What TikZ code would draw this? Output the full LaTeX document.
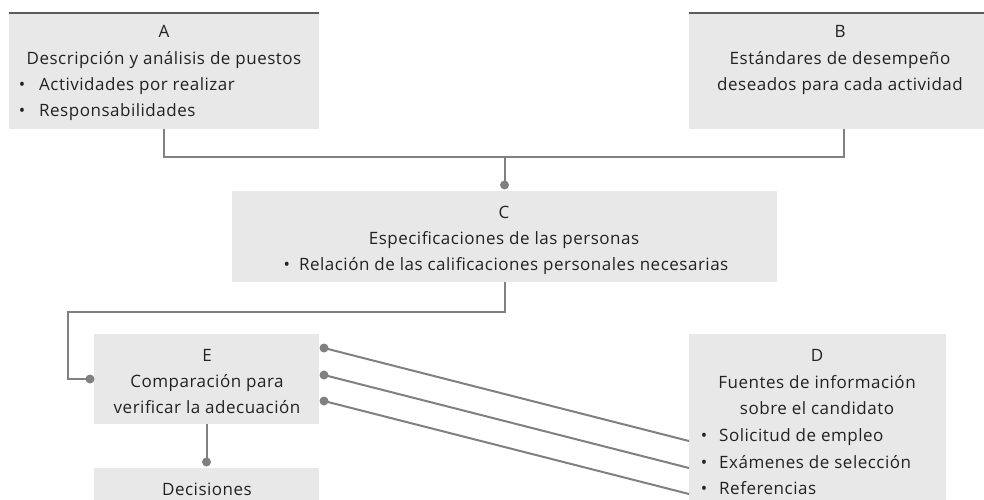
\documentclass[tikz,border=0pt]{standalone}
\usepackage{fontspec}
\setmainfont{Open Sans}[LetterSpace=3]
\usetikzlibrary{calc}
\definecolor{boxgray}{HTML}{E8E8E8}
\definecolor{linegray}{HTML}{808080}
\definecolor{topgray}{HTML}{5C5C5C}
\definecolor{textgray}{HTML}{222222}
\newcommand{\dfont}{\fontsize{17pt}{26pt}\selectfont}
\begin{document}
\begin{tikzpicture}[x=1pt,y=-1pt,
  box/.style={fill=boxgray,draw=none,inner sep=0pt,outer sep=0pt,anchor=north west},
  txt/.style={text=textgray,inner sep=0pt,anchor=base,font=\dfont},
  ltxt/.style={txt,anchor=base west},
  conn/.style={draw=linegray,line width=2pt},
  topline/.style={draw=topgray,line width=2pt},
  dotc/.style={fill=linegray}]
\useasboundingbox (0,0) rectangle (984,500);
% boxes
\node[box,minimum width=310,minimum height=116] (A) at (9,13) {};
\node[box,minimum width=295,minimum height=116] (B) at (689,13) {};
\node[box,minimum width=545,minimum height=91] (C) at (232,191) {};
\node[box,minimum width=225,minimum height=90] (E) at (94,334) {};
\node[box,minimum width=225,minimum height=32] (Dec) at (94,468) {};
\node[box,minimum width=257,minimum height=166] (D) at (689,334) {};
\draw[topline] (A.north west) -- (A.north east);
\draw[topline] (B.north west) -- (B.north east);
% texts A
\node[txt] (At) at (164,38) {A};
\node[txt] (A1) at (164,65) {Descripción y análisis de puestos};
\node[txt] (Ab1) at (22,91) {•};
\node[ltxt] (A2) at (39,91) {Actividades por realizar};
\node[txt] (Ab2) at (22,117) {•};
\node[ltxt] (A3) at (39,117) {Responsabilidades};
% texts B
\node[txt] (Bt) at (840,38) {B};
\node[txt] (B1) at (840,65) {Estándares de desempeño};
\node[txt] (B2) at (840,91) {deseados para cada actividad};
% texts C
\node[txt] (Ct) at (504,218) {C};
\node[txt] (C1) at (504,244) {Especificaciones de las personas};
\node[txt] (C2) at (506,270) {•\hspace{9pt}Relación de las calificaciones personales necesarias};
% texts E
\node[txt] (Et) at (207,361) {E};
\node[txt] (E1) at (207,387) {Comparación para};
\node[txt] (E2) at (207,413) {verificar la adecuación};
\node[txt] (Dect) at (207,495) {Decisiones};
% texts D
\node[txt] (Dt) at (817,361) {D};
\node[txt] (D1) at (817,388) {Fuentes de información};
\node[txt] (D2) at (817,414) {sobre el candidato};
\node[txt] (Db1) at (704,441) {•};
\node[ltxt] (D3) at (719,441) {Solicitud de empleo};
\node[txt] (Db2) at (704,468) {•};
\node[ltxt] (D4) at (719,468) {Exámenes de selección};
\node[txt] (Db3) at (704,494) {•};
\node[ltxt] (D5) at (719,494) {Referencias};
% connectors
\coordinate (J) at ($(A.south)+(0,28)$);
\coordinate (Bc) at ([xshift=7.5pt]B.south);
\coordinate (Cdot) at ($(C.north)+(0,-6)$);
\draw[conn] (A.south) -- (J) -| (Bc);
\draw[conn] (J -| C.north) -- (Cdot);
\fill[dotc] (Cdot) circle (4.5);
\coordinate (Edot) at ($(E.west)+(-4,0)$);
\draw[conn] (C.south) -- ++(0,30) -| ([xshift=-26pt]E.west) -- (Edot);
\fill[dotc] (Edot) circle (4.5);
\coordinate (Decdot) at ($(Dec.north)+(0,-6)$);
\draw[conn] (E.south) -- (Decdot);
\fill[dotc] (Decdot) circle (4.5);
\coordinate (e1) at ($(E.north east)+(5,14)$);
\coordinate (e2) at ($(E.north east)+(5,41)$);
\coordinate (e3) at ($(E.north east)+(5,67)$);
\coordinate (d1) at ($(D.north west)+(0,107)$);
\coordinate (d2) at ($(D.north west)+(0,134)$);
\coordinate (d3) at ($(D.north west)+(0,160)$);
\draw[conn] (e1) -- (d1);
\draw[conn] (e2) -- (d2);
\draw[conn] (e3) -- (d3);
\fill[dotc] (e1) circle (4.5);
\fill[dotc] (e2) circle (4.5);
\fill[dotc] (e3) circle (4.5);
\end{tikzpicture}
\end{document}
